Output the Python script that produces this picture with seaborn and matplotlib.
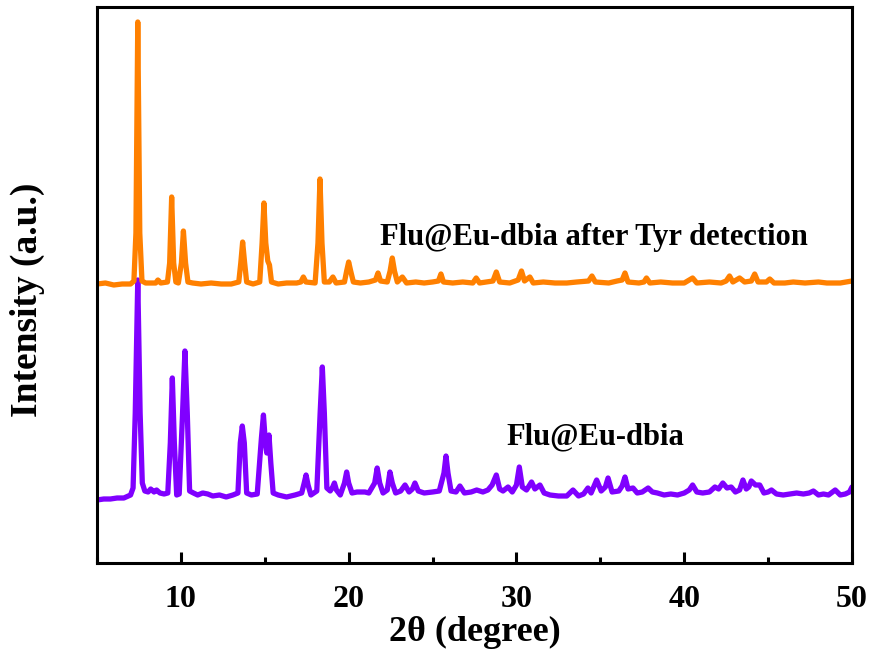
import matplotlib
matplotlib.use("Agg")
import matplotlib.pyplot as plt
from matplotlib.ticker import MultipleLocator
import seaborn as sns
import pandas as pd

# ---- data ----
after_x = [5.0, 5.5, 6.0, 6.5, 7.0, 7.2, 7.32, 7.43, 7.55, 7.68, 7.9, 8.3, 8.5, 8.63, 8.8,
           9.2, 9.33, 9.45, 9.57, 9.7, 9.85, 10.03, 10.15, 10.28, 10.42, 10.7, 11.2, 11.8,
           12.4, 13.0, 13.45, 13.57, 13.68, 13.8, 13.92, 14.3, 14.7, 14.84, 14.95, 15.06,
           15.18, 15.28, 15.4, 15.8, 16.3, 16.9, 17.15, 17.3, 17.45, 18.0, 18.17, 18.29,
           18.41, 18.55, 18.85, 19.06, 19.25, 19.75, 19.88, 20.0, 20.12, 20.28, 20.7, 21.2,
           21.6, 21.75, 21.9, 22.3, 22.47, 22.6, 22.73, 22.9, 23.2, 23.45, 24.0, 24.5, 25.0,
           25.35, 25.5, 25.65, 26.2, 26.8, 27.4, 27.6, 27.8, 28.6, 28.8, 29.0, 29.6, 30.1,
           30.3, 30.48, 30.8, 31.0, 31.6, 32.3, 33.0, 33.6, 34.3, 34.5, 34.7, 35.5, 36.0,
           36.3, 36.47, 36.65, 37.3, 37.6, 37.75, 37.95, 38.6, 39.3, 40.0, 40.5, 40.75, 41.5,
           42.2, 42.5, 42.7, 42.9, 43.3, 43.6, 44.0, 44.2, 44.4, 44.9, 45.1, 45.35, 46.0,
           46.5, 47.2, 48.0, 48.5, 49.3, 50.0]
after_y = [279, 280, 278, 279, 279, 282, 330, 541, 330, 282, 280, 280, 280, 283, 280,
           281, 300, 366, 300, 281, 280, 300, 332, 300, 281, 280, 279, 280,
           279, 279, 281, 300, 321, 300, 281, 279, 281, 320, 360, 320,
           302, 298, 281, 279, 280, 280, 281, 286, 281, 280, 320, 384,
           320, 281, 281, 286, 280, 281, 292, 301, 292, 281, 280, 281,
           283, 290, 282, 281, 292, 305, 292, 281, 286, 280, 281, 280, 281,
           282, 289, 281, 280, 281, 280, 285, 280, 282, 291, 281, 280, 283,
           292, 282, 286, 280, 281, 280, 280, 281, 282, 287, 281, 280, 282,
           283, 290, 281, 280, 281, 285, 280, 281, 280, 280, 285, 280, 281,
           280, 282, 287, 281, 285, 281, 282, 289, 281, 281, 284, 280, 280,
           281, 280, 281, 280, 280, 282]

flu_x = [5.0, 5.4, 5.8, 6.2, 6.6, 7.0, 7.15, 7.28, 7.43, 7.57, 7.7, 7.85, 8.05, 8.2, 8.4,
         8.55, 8.75, 9.0, 9.22, 9.37, 9.49, 9.61, 9.75, 9.9, 10.1, 10.24, 10.38, 10.52,
         10.75, 11.0, 11.3, 11.6, 11.9, 12.3, 12.7, 13.1, 13.4, 13.54, 13.66, 13.78, 13.92,
         14.2, 14.55, 14.8, 14.92, 15.04, 15.12, 15.25, 15.36, 15.5, 15.8, 16.3, 16.8,
         17.2, 17.35, 17.46, 17.58, 17.75, 18.1, 18.3, 18.43, 18.55, 18.7, 18.9, 19.05,
         19.15, 19.27, 19.5, 19.75, 19.88, 20.0, 20.2, 20.5, 20.97, 21.2, 21.55, 21.7,
         21.85, 22.05, 22.3, 22.46, 22.6, 22.8, 23.1, 23.36, 23.6, 23.8, 23.95, 24.15,
         24.5, 25.0, 25.4, 25.68, 25.8, 25.92, 26.1, 26.4, 26.63, 26.9, 27.3, 27.63, 28.0,
         28.3, 28.55, 28.8, 29.0, 29.2, 29.5, 29.75, 30.0, 30.17, 30.35, 30.6, 30.9, 31.1,
         31.4, 31.65, 32.0, 32.5, 33.0, 33.37, 33.7, 34.0, 34.26, 34.45, 34.78, 35.05,
         35.3, 35.46, 35.7, 36.1, 36.3, 36.47, 36.65, 36.95, 37.2, 37.5, 37.85, 38.1, 38.4,
         38.8, 39.2, 39.6, 40.0, 40.3, 40.5, 40.75, 41.1, 41.5, 41.83, 42.05, 42.3, 42.55,
         42.8, 43.05, 43.3, 43.5, 43.7, 43.85, 44.0, 44.25, 44.5, 44.75, 45.0, 45.2, 45.5,
         45.9, 46.3, 46.7, 47.1, 47.45, 47.7, 48.0, 48.3, 48.6, 49.0, 49.3, 49.6, 49.85,
         50.0]
flu_y = [63, 64, 64, 65, 65, 68, 75, 150, 283, 150, 80, 72, 71, 74, 71,
         73, 70, 69, 70, 120, 185, 120, 68, 69, 150, 212, 150, 72,
         70, 68, 70, 69, 67, 68, 66, 68, 70, 120, 137, 120, 70,
         68, 69, 125, 148, 120, 110, 128, 100, 70, 68, 66, 68,
         70, 80, 88, 78, 68, 72, 150, 196, 150, 75, 72, 76,
         80, 73, 68, 80, 91, 80, 70, 71, 71, 70, 80, 95,
         80, 70, 73, 91, 80, 70, 72, 78, 71, 74, 80, 72,
         70, 71, 72, 90, 107, 90, 72, 71, 77, 70, 71, 73, 71,
         73, 78, 88, 74, 72, 76, 71, 78, 96, 76, 73, 81, 74,
         78, 70, 68, 67, 67, 73, 67, 69, 75, 70, 83, 72,
         76, 85, 71, 72, 77, 86, 74, 75, 70, 71, 75, 71, 70,
         68, 69, 68, 70, 73, 78, 71, 70, 71, 76, 74, 80, 75,
         76, 71, 73, 83, 74, 76, 82, 78, 78, 70, 71, 73, 69,
         68, 69, 70, 69, 70, 72, 68, 69, 68, 73, 68, 69, 71,
         76]

series_names = ["Flu@Eu-dbia after Tyr detection", "Flu@Eu-dbia"]
series_colors = ["#FF8000", "#8000FF"]
x_ticks = [10, 20, 30, 40, 50]

df = pd.concat([
    pd.DataFrame({"2theta": after_x, "intensity": after_y, "sample": series_names[0]}),
    pd.DataFrame({"2theta": flu_x, "intensity": flu_y, "sample": series_names[1]}),
], ignore_index=True)

sns.set_theme(style="white")
plt.rcParams["font.family"] = ["Liberation Serif", "DejaVu Serif"]
plt.rcParams["font.weight"] = "bold"
plt.rcParams["text.color"] = "black"
plt.rcParams["axes.labelcolor"] = "black"
plt.rcParams["xtick.color"] = "black"
plt.rcParams["ytick.color"] = "black"

fig = plt.figure(figsize=(8.75, 6.53), dpi=100)
ax = fig.add_axes([97 / 875, 1 - 563 / 653, (852 - 97) / 875, (563 - 7) / 653])

sns.lineplot(data=df, x="2theta", y="intensity", hue="sample",
             palette=dict(zip(series_names, series_colors)),
             hue_order=series_names[::-1], linewidth=3.8, legend=False,
             estimator=None, sort=False, ax=ax)
for ln in ax.get_lines():
    ln.set_solid_joinstyle("round")
    ln.set_solid_capstyle("round")

ax.set_xlim(5, 50)
ax.set_ylim(0, 556)
ax.set_xticks(x_ticks)
ax.set_xticklabels([str(t) for t in x_ticks])
ax.xaxis.set_minor_locator(MultipleLocator(5))
ax.set_yticks([])
ax.tick_params(axis="x", which="major", direction="in", length=8, width=2.2,
               labelsize=23, pad=16, bottom=True, top=False,
               color="black", labelcolor="black")
ax.tick_params(axis="x", which="minor", direction="in", length=4.5, width=2.2,
               bottom=True, top=False, color="black")
for lab in ax.get_xticklabels():
    lab.set_fontweight("bold")
for s in ax.spines.values():
    s.set_linewidth(2.2)
    s.set_color("black")
    s.set_visible(True)

ax.set_xlabel("2θ (degree)", fontsize=26, fontweight="bold", color="black")
ax.xaxis.set_label_coords(0.5, (563 - 616) / 556)
ax.set_ylabel("Intensity (a.u.)", fontsize=27, fontweight="bold", color="black")
ax.yaxis.set_label_coords((45 - 97) / 755, (563 - 300) / 556)

ax.text(21.87, 325, series_names[0], fontsize=22, fontweight="bold",
        ha="left", va="center", color="black")
ax.text(34.7, 126, series_names[1], fontsize=22, fontweight="bold",
        ha="center", va="center", color="black")

fig.savefig("out.png", dpi=100)
